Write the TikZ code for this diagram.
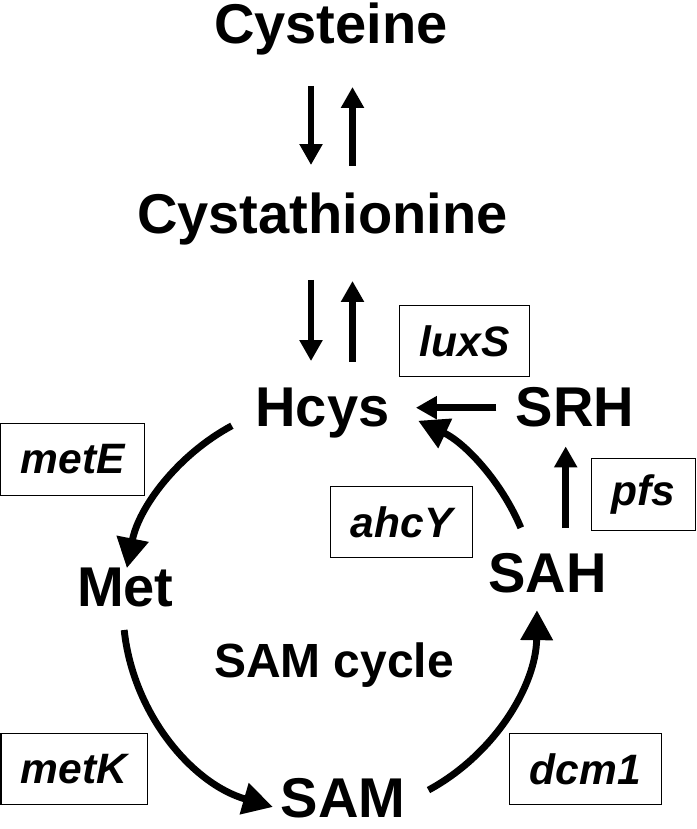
\documentclass[tikz,border=0pt]{standalone}
\usepackage{fontspec}
\setmainfont{Liberation Sans}
\usetikzlibrary{arrows.meta}

\begin{document}
\begin{tikzpicture}[
  metab/.style  ={font=\fontsize{31.9}{38}\selectfont\bfseries, inner sep=0pt, anchor=base},
  gene/.style   ={draw, line width=0.6pt, font=\fontsize{24.2}{29}\selectfont\bfseries\itshape,
                  inner xsep=4mm, inner ysep=0pt, minimum height=14.3mm},
  ar/.style     ={-{Triangle[length=4.2mm,width=4.4mm]}, line width=1.35mm},
  loopar/.style ={-{Triangle[length=6mm,width=6.2mm]}, line width=1.38mm},
]
\useasboundingbox (0,0) rectangle (13.92,16.58);

% ---------------- transsulfuration ----------------------------------------
\node[metab] (cys)   at (6.62, 15.70) {Cysteine};
\node[metab] (cysta) at (6.45, 11.90) {Cystathionine};
\node[metab] (hcys)  at (6.45,  8.04) {Hcys};

\coordinate (dn) at ([xshift=-4mm]cys.south);
\coordinate (up) at ([xshift=4.3mm]cys.south);
\draw[ar, shorten <=6mm, shorten >=5.6mm] (dn) -- (dn |- cysta.north);
\draw[ar, shorten <=5.5mm, shorten >=6.2mm] (up |- cysta.north) -- (up);
\draw[ar, shorten <=6.8mm, shorten >=5.4mm] (dn |- cysta.south) -- (dn |- hcys.north);
\draw[ar, shorten <=5.3mm, shorten >=7mm] (up |- hcys.north) -- (up |- cysta.south);

% ---------------- SAM cycle -----------------------------------------------
\node[metab] (srh) at (11.50, 8.04)  {SRH};
\node[metab] (met) at ( 2.506, 4.446) {Met};
\node[metab] (sah) at (10.95, 4.726) {SAH};
\node[metab] (sam) at ( 6.86, 0.24)  {SAM};
\node[metab, font=\fontsize{27.3}{33}\selectfont\bfseries] (cyclbl) at (6.68, 3.034) {SAM cycle};

\coordinate (cyc) at (6.60, 4.42);
\draw[loopar] ([shift={(118.3:4.14)}]cyc) arc[start angle=118.3, end angle=168.9, radius=4.14];
\draw[loopar] ([shift={(186.1:4.14)}]cyc) arc[start angle=186.1, end angle=254, radius=4.14];
\draw[loopar] ([shift={(-61.6:4.14)}]cyc) arc[start angle=-61.6, end angle=-0.6, radius=4.14];
\draw[loopar] ([shift={(22.8:4.14)}]cyc) arc[start angle=22.8, end angle=64.8, radius=4.14];

% ---------------- salvage branch ------------------------------------------
\draw[ar, shorten <=3.8mm, shorten >=5.2mm] (srh.west) -- (srh.west -| hcys.east);
\coordinate (pf) at ([xshift=-1.86mm]srh.south);
\draw[ar, shorten <=5mm, shorten >=3.7mm] (pf |- sah.north) -- (pf);

% ---------------- enzymes -------------------------------------------------
\node[gene] (luxs) at ( 9.293, 9.76)  {luxS};
\node[gene] (mete) at ( 1.453, 7.39)  {metE};
\node[gene] (ahcy) at ( 8.033, 6.136) {ahcY};
\node[gene] (pfs)  at (12.87,  6.69)  {pfs};
\node[gene] (metk) at ( 1.483, 1.196) {metK};
\node[gene] (dcm)  at (11.71,  1.196) {dcm1};

\end{tikzpicture}
\end{document}
